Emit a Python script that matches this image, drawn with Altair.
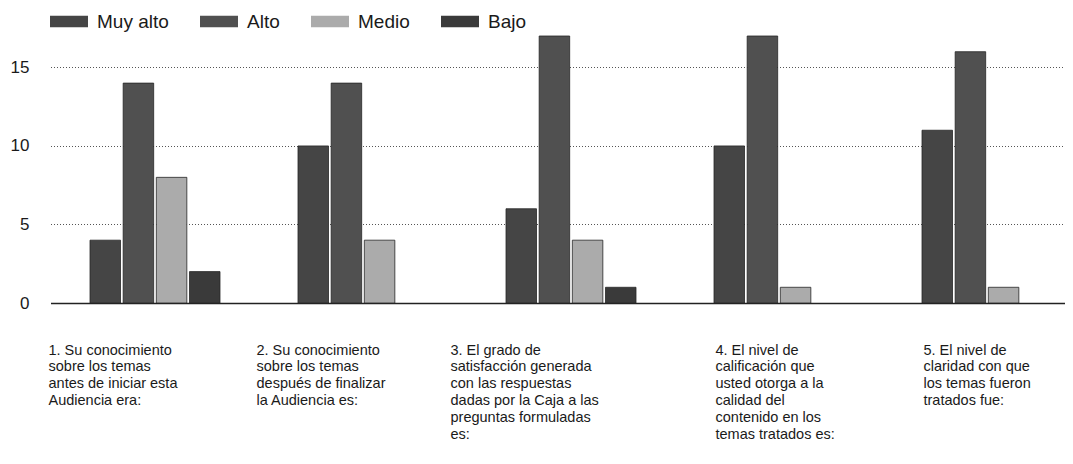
import altair as alt
import pandas as pd

question_lines = [
    ["1. Su conocimiento", "sobre los temas", "antes de iniciar esta", "Audiencia era:"],
    ["2. Su conocimiento", "sobre los temas", "después de finalizar", "la Audiencia es:"],
    ["3. El grado de", "satisfacción generada", "con las respuestas",
     "dadas por la Caja a las", "preguntas formuladas", "es:"],
    ["4. El nivel de", "calificación que", "usted otorga a la", "calidad del",
     "contenido en los", "temas tratados es:"],
    ["5. El nivel de", "claridad con que", "los temas fueron", "tratados fue:"],
]
levels = ["Muy alto", "Alto", "Medio", "Bajo"]
muy_alto = [4, 10, 6, 10, 11]
alto = [14, 14, 17, 17, 16]
medio = [8, 4, 4, 1, 1]
bajo = [2, 0, 1, 0, 0]
colors = ["#454545", "#505050", "#ababab", "#3a3a3a"]

questions = ["\n".join(l) for l in question_lines]
series = [muy_alto, alto, medio, bajo]
rows = []
for lev, vals in zip(levels, series):
    for q, v in zip(questions, vals):
        rows.append({"pregunta": q, "nivel": lev, "valor": v})
df = pd.DataFrame(rows)

FONT = "Liberation Sans"

label_offset = {
    "condition": [
        {"test": "indexof(datum.value, '3.') == 0", "value": -120},
        {"test": "indexof(datum.value, '4.') == 0 || indexof(datum.value, '5.') == 0", "value": -63},
    ],
    "value": -106,
}

chart = alt.Chart(df).mark_bar(stroke="#262626", strokeWidth=0.8).encode(
    x=alt.X("pregunta:N", sort=questions, title=None,
            scale=alt.Scale(range=[0.5, 1040.5], paddingInner=0, paddingOuter=0),
            axis=alt.Axis(labelExpr="split(datum.label, '\\n')", labelAngle=0,
                          labelAlign="left", labelBaseline="top", labelOffset=label_offset,
                          labelPadding=40, labelLineHeight=16.8, labelFontSize=14.5,
                          labelFont=FONT, labelColor="#1a1a1a", labelLimit=400,
                          ticks=False, domainColor="#222222", domainWidth=1.5,
                          grid=False)),
    xOffset=alt.XOffset("nivel:N", sort=levels,
                        scale=alt.Scale(range=[39.5, 169.5], paddingInner=0.08, paddingOuter=0)),
    y=alt.Y("valor:Q", title=None,
            scale=alt.Scale(domain=[0, 17], nice=False),
            axis=alt.Axis(values=[0, 5, 10, 15], domain=False, ticks=False,
                          labelPadding=21, labelFontSize=17, labelFont=FONT,
                          labelColor="#1a1a1a", gridDash=[1, 2], gridColor="#555555",
                          gridWidth=1)),
    color=alt.Color("nivel:N", sort=levels,
                    scale=alt.Scale(domain=levels, range=colors),
                    legend=alt.Legend(title=None, orient="none", direction="horizontal",
                                      legendX=0, legendY=-33.5,
                                      symbolType="M-1,-0.3H1V0.3H-1Z", symbolSize=1444,
                                      symbolStrokeWidth=0, symbolOpacity=1,
                                      labelFontSize=19, labelFont=FONT, labelColor="#1a1a1a",
                                      labelOffset=9, columnPadding=31)),
    strokeOpacity=alt.condition(alt.datum.valor > 0, alt.value(1), alt.value(0)),
).properties(
    width=1015, height=267,
    padding={"left": 42, "top": 28, "right": 0, "bottom": 150},
    autosize=alt.AutoSizeParams(type="none"),
).configure_view(stroke=None)

chart.save("out.html", embed_options={"renderer": "svg", "actions": False})
